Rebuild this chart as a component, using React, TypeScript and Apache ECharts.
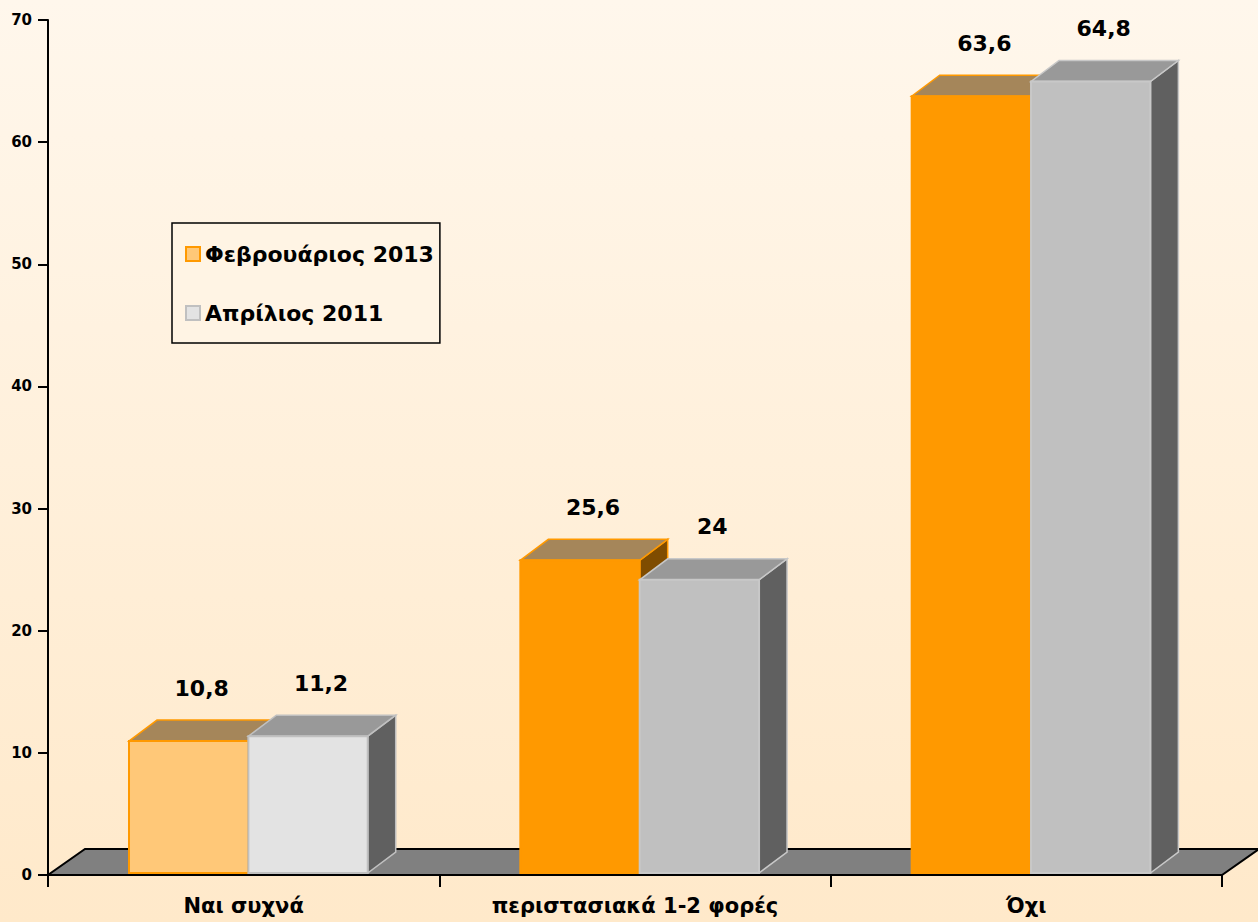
import React, { useEffect, useRef } from "react";
import * as echarts from "echarts";

const CATEGORIES = ["Ναι συχνά", "περιστασιακά 1-2 φορές", "Όχι"];
const SERIES_NAMES = ["Φεβρουάριος 2013", "Απρίλιος 2011"];
const FEB_2013 = [10.8, 25.6, 63.6];
const APR_2011 = [11.2, 24, 64.8];
const Y_MIN = 0;
const Y_MAX = 70;
const Y_INTERVAL = 10;

const FONT = "'DejaVu Sans', Verdana, sans-serif";
const HIGHLIGHT_CAT = 0;

// styles per series: [normal, highlighted]
const PALETTE = [
  {
    normal: { front: "#FF9900", top: "#A5865A", side: "#7F4C00", border: "#FF9900" },
    hl: { front: "#FFC878", top: "#A5865A", side: "#7F4C00", border: "#FF9900" },
  },
  {
    normal: { front: "#C0C0C0", top: "#999999", side: "#606060", border: "#C8C8C8" },
    hl: { front: "#E3E3E3", top: "#999999", side: "#606060", border: "#C0C0C0" },
  },
];

const BAR_DX = 28;
const BAR_DY = 21;
const FLOOR_DX = 37;
const FLOOR_DY = 26;

function fmt(v: number) {
  return String(v).replace(".", ",");
}

function makeBarRenderer(sIdx: number) {
  return (params: any, api: any) => {
    const cat = api.value(0);
    const val = api.value(1);
    const top = api.coord([cat, val]);
    const base = api.coord([cat, 0]);
    const band = api.size([1, 0])[0];
    const bw = band * 0.305;
    const shift = band * 0.012;
    const cx = top[0];
    const x0 = cx - bw + shift + sIdx * bw;
    const lift = 2;
    const yb = base[1] - lift;
    const yt = top[1] - lift;
    const c = cat === HIGHLIGHT_CAT ? PALETTE[sIdx].hl : PALETTE[sIdx].normal;
    return {
      type: "group",
      children: [
        {
          type: "polygon",
          shape: {
            points: [
              [x0 + bw, yt],
              [x0 + bw + BAR_DX, yt - BAR_DY],
              [x0 + bw + BAR_DX, yb - BAR_DY],
              [x0 + bw, yb],
            ],
          },
          style: { fill: c.side, stroke: c.border, lineWidth: 1.5 },
        },
        {
          type: "polygon",
          shape: {
            points: [
              [x0, yt],
              [x0 + bw, yt],
              [x0 + bw + BAR_DX, yt - BAR_DY],
              [x0 + BAR_DX, yt - BAR_DY],
            ],
          },
          style: { fill: c.top, stroke: c.border, lineWidth: 1.5 },
        },
        {
          type: "rect",
          shape: { x: x0, y: yt, width: bw, height: yb - yt },
          style: { fill: c.front, stroke: c.border, lineWidth: 2 },
        },
        {
          type: "text",
          z2: 100,
          style: {
            x: x0 + bw / 2 + 13,
            y: yt - 53,
            text: fmt(val),
            align: "center",
            verticalAlign: "middle",
            fill: "#000",
            font: `bold 22px ${FONT}`,
          },
        },
      ],
    };
  };
}

function renderFloor(params: any, api: any) {
  const cs = params.coordSys;
  const y0 = api.coord([0, 0])[1];
  const x0 = cs.x;
  const x1 = cs.x + cs.width;
  return {
    type: "polygon",
    shape: {
      points: [
        [x0, y0],
        [x1, y0],
        [x1 + FLOOR_DX, y0 - FLOOR_DY],
        [x0 + FLOOR_DX, y0 - FLOOR_DY],
      ],
    },
    style: { fill: "#808080", stroke: "#000", lineWidth: 2 },
  };
}

export default function App() {
  const ref = useRef<HTMLDivElement>(null);
  useEffect(() => {
    if (!ref.current) return;
    const chart = echarts.init(ref.current, undefined, { renderer: "svg" });
    const seriesData = [FEB_2013, APR_2011];
    chart.setOption({
      animation: false,
      backgroundColor: {
        type: "linear",
        x: 0,
        y: 0,
        x2: 0,
        y2: 1,
        colorStops: [
          { offset: 0, color: "#FFF7EC" },
          { offset: 1, color: "#FFE9CA" },
        ],
      },
      textStyle: { fontFamily: FONT },
      grid: { left: 48, right: 36, top: 20, bottom: 47, containLabel: false },
      legend: {
        orient: "vertical",
        left: 172,
        top: 223,
        padding: [19, 6, 18, 13],
        itemGap: 35,
        itemWidth: 14,
        itemHeight: 14,
        borderColor: "#000",
        borderWidth: 1.5,
        backgroundColor: "#FFF4E4",
        textStyle: {
          fontSize: 22,
          fontWeight: "bold",
          color: "#000",
          fontFamily: FONT,
          lineHeight: 24,
        },
        data: [
          {
            name: SERIES_NAMES[0],
            icon: "rect",
            itemStyle: { color: "#FFC878", borderColor: "#FF9900", borderWidth: 2 },
          },
          {
            name: SERIES_NAMES[1],
            icon: "rect",
            itemStyle: { color: "#E3E3E3", borderColor: "#C0C0C0", borderWidth: 2 },
          },
        ],
      },
      xAxis: {
        type: "category",
        data: CATEGORIES,
        boundaryGap: true,
        axisLine: { show: true, lineStyle: { color: "#000", width: 2 } },
        axisTick: { show: true, length: 12, lineStyle: { color: "#000", width: 2 } },
        axisLabel: {
          fontSize: 21,
          fontWeight: "bold",
          color: "#000",
          fontFamily: FONT,
          margin: 20,
        },
        splitLine: { show: false },
        z: 5,
      },
      yAxis: {
        type: "value",
        min: Y_MIN,
        max: Y_MAX,
        interval: Y_INTERVAL,
        axisLine: { show: true, lineStyle: { color: "#000", width: 2 } },
        axisTick: { show: true, length: 10, lineStyle: { color: "#000", width: 2 } },
        axisLabel: {
          fontSize: 15,
          fontWeight: "bold",
          color: "#000",
          fontFamily: FONT,
          margin: 16,
        },
        splitLine: { show: false },
      },
      series: [
        {
          type: "custom",
          name: "floor",
          silent: true,
          z: 1,
          data: [[0, 0]],
          encode: { x: 0, y: 1 },
          renderItem: renderFloor,
        },
        ...seriesData.map((arr, sIdx) => ({
          type: "custom",
          name: SERIES_NAMES[sIdx],
          z: 3 + sIdx,
          clip: false,
          itemStyle: { color: PALETTE[sIdx].hl.front },
          encode: { x: 0, y: 1 },
          data: arr.map((v, i) => [i, v]),
          renderItem: makeBarRenderer(sIdx),
        })),
      ],
    });
    return () => chart.dispose();
  }, []);
  return (
    <div
      ref={ref}
      style={{ position: "fixed", left: 0, top: 0, width: 1258, height: 922 }}
    />
  );
}
